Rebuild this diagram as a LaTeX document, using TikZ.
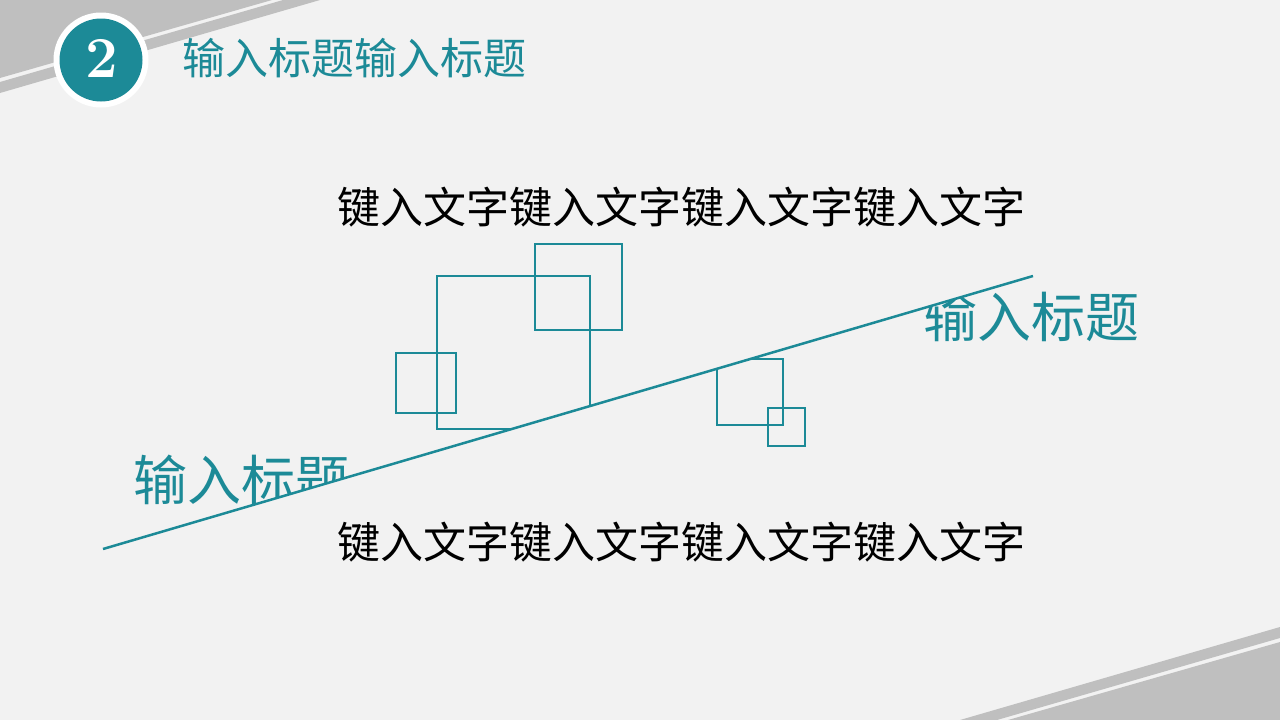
\documentclass[tikz,border=0pt]{standalone}
\usepackage{fontspec}
\newfontfamily\cjk{Noto Sans CJK SC}
\definecolor{tealblue}{HTML}{1C8A97}
\definecolor{stripegray}{HTML}{BFBFBF}
\definecolor{bggray}{HTML}{F2F2F2}
\tikzset{
	box/.style={draw=tealblue,line width=2.5pt},
	heading/.style={text=tealblue,inner sep=0pt,font=\cjk\fontsize{54}{60}\selectfont},
	bodytext/.style={text=black,inner sep=0pt,font=\cjk\fontsize{43}{50}\selectfont}
}
\begin{document}
\begin{tikzpicture}[x=1pt,y=-1pt]
		%Hintergrund
		\fill [bggray] (0,0) rectangle (1280,720);
		\useasboundingbox (0,0) rectangle (1280,720);
		%Streifen
		\fill [stripegray] (0,0) -- (272,0) -- (0,78) -- cycle;
		\fill [stripegray] (283,0) -- (320,0) -- (0,93) -- (0,82) -- cycle;
		\fill [stripegray] (1280,720) -- (1008,720) -- (1280,642) -- cycle;
		\fill [stripegray] (997,720) -- (960,720) -- (1280,627) -- (1280,638) -- cycle;
		%Kreis mit Nummer
		\fill [white] (101,60) circle [radius=47.5];
		\fill [tealblue] (101,60) circle [radius=41.5];
		\node (number) [text=white,font=\bfseries\fontsize{58}{60}\selectfont] at (102,58) {2};
		\node (title) [anchor=west,text=tealblue,inner sep=0pt,font=\cjk\fontsize{43}{50}\selectfont] at (182,58) {输入标题输入标题};
		%Texte
		\node (texttop) [bodytext] at (681,207) {键入文字键入文字键入文字键入文字};
		\node (textbottom) [bodytext] at (681,542) {键入文字键入文字键入文字键入文字};
		%Linie
		\coordinate (linestart) at (103,549);
		\coordinate (lineend) at (1033,276);
		%oberhalb der Linie
		\begin{scope}
			\clip (0,0) -- (1280,0) -- (1280,203.5) -- (0,579.2) -- cycle;
			\draw [box,line width=2pt] (437,276) rectangle (590,429);
			\draw [box] (535,244) rectangle (622,330);
			\draw [box] (396,353) rectangle (456,413);
			\node (headleft) [heading] at (241,480) {输入标题};
		\end{scope}
		%unterhalb der Linie
		\begin{scope}
			\clip (0,579.2) -- (1280,203.5) -- (1280,720) -- (0,720) -- cycle;
			\draw [box] (717,359) rectangle (783,425);
			\draw [box] (768,408) rectangle (805,446);
			\node (headright) [heading] at (1031,317) {输入标题};
		\end{scope}
		\draw [tealblue,line width=2.5pt] (linestart) -- (lineend);
\end{tikzpicture}
\end{document}
